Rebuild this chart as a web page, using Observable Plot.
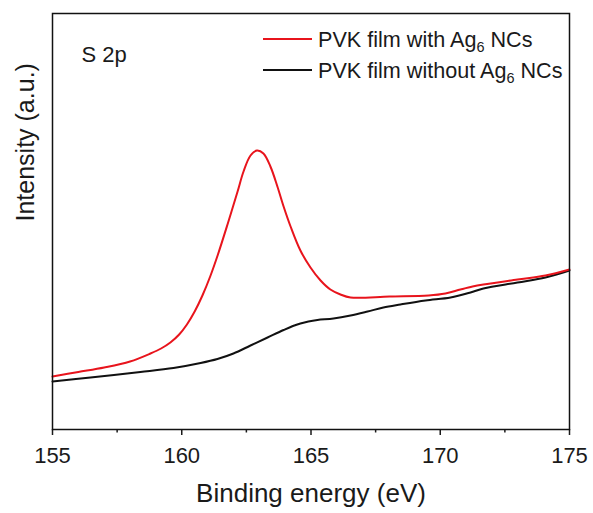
<!DOCTYPE html>
<html>
<head>
<meta charset="utf-8">
<script src="https://cdn.jsdelivr.net/npm/d3@7"></script>
<script src="https://cdn.jsdelivr.net/npm/@observablehq/plot@0.6"></script>
<style>
  body { margin: 0; background: #fff; }
  #wrap { position: relative; width: 593px; height: 513px; font-family: "Liberation Sans", Arial, sans-serif; color: #1a1a1a; }
  .leg { position: absolute; left: 263px; font-size: 21.6px; line-height: 1; white-space: nowrap; }
  .leg .sw { display: inline-block; width: 49px; height: 0; border-top: 2px solid; vertical-align: middle; margin-right: 6px; position: relative; top: -2px; }
  .leg sub { font-size: 14.5px; vertical-align: -5px; line-height: 0; }
</style>
</head>
<body>
<div id="wrap"></div>
<script>
// Binding energy (eV) and intensity (arbitrary units)
const redEnergy = [155.00,156.00,157.00,158.00,158.79,159.20,159.56,159.90,160.20,160.50,160.80,161.10,161.40,161.77,162.16,162.39,162.66,162.91,163.16,163.43,163.70,163.94,164.21,164.59,164.98,165.37,165.75,166.14,166.53,168.04,169.55,170.20,170.78,171.25,171.67,172.99,174.07,175.00];
const redIntensity = [53,57.5,62,68,76,81,87,95,105,118,134,153,175,205,238,258,274,279,276,263,243,223,203,179,162,149,140,135,132,133,134,136,140,143,145,150,154,160];
const blackEnergy = [155.00,156.47,158.40,159.68,160.73,161.38,162.00,162.66,163.32,163.94,164.30,164.59,164.90,165.25,165.87,166.53,167.19,167.80,168.46,169.43,170.40,171.17,171.67,172.99,174.07,175.00];
const blackIntensity = [48,52,57.5,61.5,66.5,70.5,76,84,92,99.5,103.5,106,108,109.5,111,114,118,122,125,129,132,137,141,147,152,159];
const majorTicks = [155,160,165,170,175];
const minorTicks = [157.5,162.5,167.5,172.5];
const seriesNames = ["PVK film with Ag", "PVK film without Ag"];
const seriesColors = ["#e8141c", "#111111"];

const redData = redEnergy.map((e,i) => ({e, v: redIntensity[i]}));
const blackData = blackEnergy.map((e,i) => ({e, v: blackIntensity[i]}));

const font = "'Liberation Sans', Arial, sans-serif";
const chart = Plot.plot({
  width: 593, height: 513,
  marginLeft: 52, marginRight: 24, marginTop: 13, marginBottom: 84,
  style: {fontFamily: font, background: "#fff", color: "#1a1a1a"},
  x: {domain: [155,175]},
  y: {domain: [0,416], axis: null},
  marks: [
    Plot.axisX({ticks: minorTicks, tickSize: 3.5, strokeWidth: 1.5, tickFormat: () => "", label: null}),
    Plot.axisX({ticks: majorTicks, tickSize: 6, tickPadding: 12, strokeWidth: 1.5, fontSize: 22, tickFormat: d => String(d), label: null}),
    Plot.line(blackData, {x: "e", y: "v", stroke: seriesColors[1], strokeWidth: 2, curve: "catmull-rom"}),
    Plot.line(redData, {x: "e", y: "v", stroke: seriesColors[0], strokeWidth: 2, curve: "catmull-rom"}),
    Plot.frame({stroke: "#111", strokeWidth: 1.5}),
    Plot.text(["S 2p"], {frameAnchor: "top-left", dx: 29, dy: 41, textAnchor: "start", lineAnchor: "middle", fontSize: 22}),
    Plot.text(["Binding energy (eV)"], {frameAnchor: "bottom", dy: 64, lineAnchor: "middle", fontSize: 26}),
    Plot.text(["Intensity (a.u.)"], {frameAnchor: "left", dx: -27, rotate: -90, lineAnchor: "middle", fontSize: 25})
  ]
});
const wrap = document.getElementById("wrap");
wrap.appendChild(chart);
const tops = [29, 60];
seriesNames.forEach((name, i) => {
  const d = document.createElement("div");
  d.className = "leg";
  d.style.top = tops[i] + "px";
  const sw = document.createElement("span");
  sw.className = "sw";
  sw.style.borderColor = seriesColors[i];
  d.appendChild(sw);
  d.appendChild(document.createTextNode(name));
  const sub = document.createElement("sub");
  sub.textContent = "6";
  d.appendChild(sub);
  d.appendChild(document.createTextNode(" NCs"));
  wrap.appendChild(d);
});
</script>
</body>
</html>
